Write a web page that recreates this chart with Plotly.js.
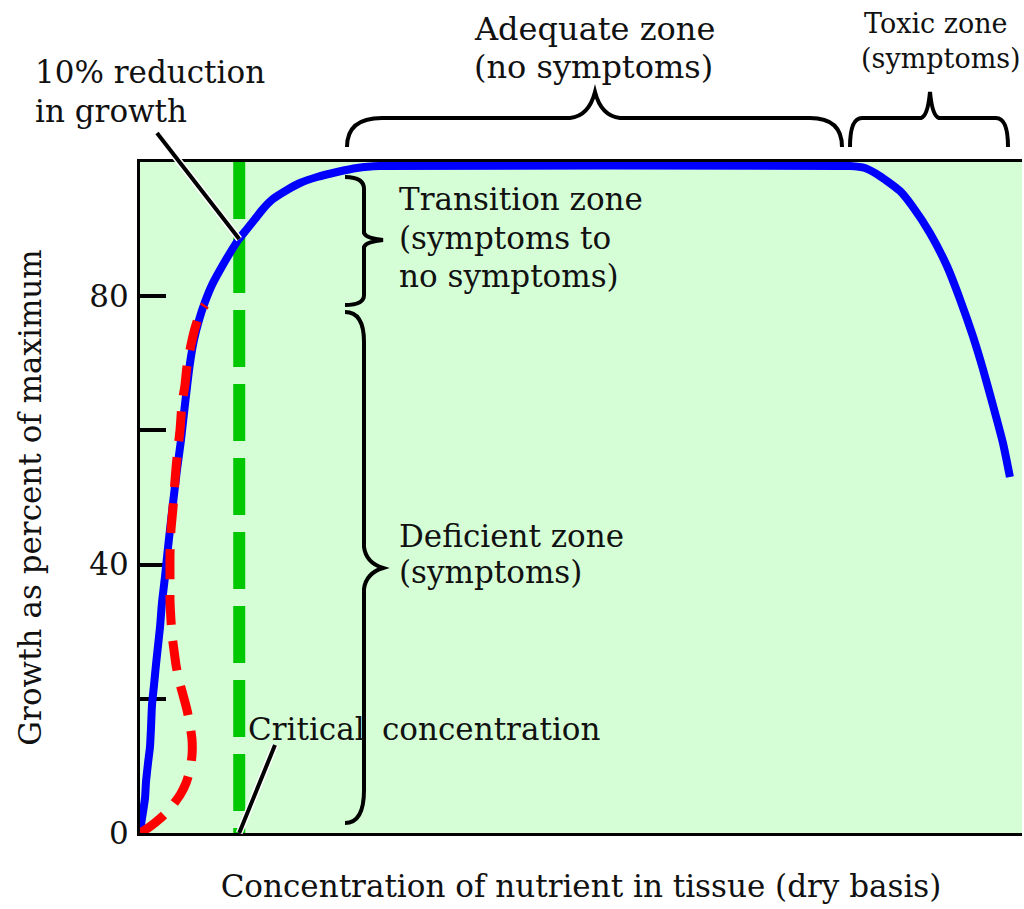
<!DOCTYPE html>
<html><head><meta charset="utf-8">
<script src="https://cdn.plot.ly/plotly-3.0.1.min.js"></script>
<style>html,body{margin:0;padding:0;background:#fff;} #chart{width:1024px;height:909px;}</style>
</head><body><div id="chart"></div>
<script>
// ---- data (concentration in arbitrary units 0-100, growth in % of maximum) ----
const responseX = [0.00,0.11,0.34,0.57,0.68,0.91,1.13,1.25,1.36,1.59,1.81,2.04,2.27,2.49,2.83,3.17,3.51,3.85,4.19,4.65,4.99,5.33,5.67,6.12,6.69,7.37,8.16,9.07,10.20,11.22,12.13,13.04,13.94,15.08,16.67,18.14,20.07,22.33,24.60,27.21,79.36,80.49,82.19,83.89,86.16,87.63,89.56,91.49,92.96,94.43,95.57,96.70,97.84,98.63];
const responseY = [0.00,1.19,3.13,5.22,7.60,10.43,12.82,15.80,19.08,22.06,25.04,27.87,30.70,34.28,38.15,42.47,46.50,50.37,54.10,58.57,62.59,66.47,70.04,73.47,76.45,79.14,81.67,83.90,86.44,88.52,90.01,91.51,93.00,94.49,95.83,96.87,97.76,98.51,99.11,99.40,99.40,99.40,99.11,97.91,95.68,93.29,89.42,84.50,79.58,74.07,69.15,63.79,58.12,53.06];
const steenbjergX = [0.00,0.91,1.81,2.72,3.63,4.54,5.22,5.67,5.90,5.90,5.67,5.33,4.88,4.42,4.08,3.85,3.63,3.51,3.40,3.40,3.40,3.51,3.74,3.97,4.20,4.54,4.76,5.10,5.33,5.78,6.24,6.80,7.37];
const steenbjergY = [0.00,0.75,1.64,2.68,4.02,5.66,7.45,9.39,11.62,13.86,16.10,18.33,20.57,22.80,25.04,27.27,29.51,31.74,34.72,37.70,41.43,45.16,48.44,52.61,56.04,60.06,63.93,66.77,69.60,72.73,75.26,77.50,78.69];
const criticalConcentration = 11.25;
const reducedGrowth = 88.52;
const yTickVals = [0, 20, 40, 60, 80];
const yTickText = ['0', '', '40', '', '80'];

// ---- layout geometry ----
const M = {l: 140, r: 2, t: 162, b: 76};
const W = 1024 - M.l - M.r, H = 909 - M.t - M.b;
const L = M.l, B = 909 - M.b;
const P = (px, py) => ((px - L) / W).toFixed(5) + ',' + ((B - py) / H).toFixed(5);
const px2x = px => (px - L) / W, py2y = py => (B - py) / H;

function hBrace(x1, x2, xt, r1, r2, tw, yEnd, yBar, yTip) {
  return 'M ' + P(x1, yEnd) + ' Q ' + P(x1, yBar) + ' ' + P(x1 + r1, yBar) +
    ' L ' + P(xt - tw, yBar) + ' Q ' + P(xt - tw * 0.25, yBar - 2) + ' ' + P(xt, yTip) +
    ' Q ' + P(xt + tw * 0.25, yBar - 2) + ' ' + P(xt + tw, yBar) +
    ' L ' + P(x2 - r2, yBar) + ' Q ' + P(x2, yBar) + ' ' + P(x2, yEnd);
}
function vBrace(yTop, yBot, yt, rT, rB, tw, xEnd, xBar, xTip) {
  return 'M ' + P(xEnd, yTop) + ' Q ' + P(xBar, yTop) + ' ' + P(xBar, yTop + rT) +
    ' L ' + P(xBar, yt - tw) + ' Q ' + P(xBar + 2, yt - tw * 0.25) + ' ' + P(xTip, yt) +
    ' Q ' + P(xBar + 2, yt + tw * 0.25) + ' ' + P(xBar, yt + tw) +
    ' L ' + P(xBar, yBot - rB) + ' Q ' + P(xBar, yBot) + ' ' + P(xEnd, yBot);
}

const braceLine = {color: '#000', width: 4};
const shapes = [
  {type: 'path', xref: 'paper', yref: 'paper', layer: 'above', line: braceLine, path: hBrace(347, 842, 595, 35, 32, 25, 147, 118, 92)},
  {type: 'path', xref: 'paper', yref: 'paper', layer: 'above', line: braceLine, path: hBrace(850, 1008, 930, 12, 12, 9, 147, 118, 92)},
  {type: 'path', xref: 'paper', yref: 'paper', layer: 'above', line: braceLine, path: vBrace(177, 305, 240, 12, 10, 7, 345, 364, 383)},
  {type: 'path', xref: 'paper', yref: 'paper', layer: 'above', line: braceLine, path: vBrace(312, 823, 568, 30, 33, 21, 345, 364, 383)},
  // pointer lines (white halo + black)
  {type: 'line', xref: 'paper', yref: 'paper', layer: 'above', line: {color: '#fff', width: 7},
   x0: px2x(157), y0: py2y(133), x1: criticalConcentration / 100, y1: reducedGrowth / 100},
  {type: 'line', xref: 'paper', yref: 'paper', layer: 'above', line: {color: '#000', width: 4},
   x0: px2x(157), y0: py2y(133), x1: criticalConcentration / 100, y1: reducedGrowth / 100},
  {type: 'line', xref: 'paper', yref: 'paper', layer: 'above', line: {color: '#fff', width: 7},
   x0: px2x(275), y0: py2y(745), x1: criticalConcentration / 100, y1: 0},
  {type: 'line', xref: 'paper', yref: 'paper', layer: 'above', line: {color: '#000', width: 4},
   x0: px2x(275), y0: py2y(745), x1: criticalConcentration / 100, y1: 0}
];

const FONT = 'DejaVu Serif';
const TXT = {family: FONT, size: 31, color: '#111'};
const labels = [
  ['10% reduction', 33, 72, 31], ['in growth', 33, 111, 31],
  ['Adequate zone', 472, 29, 32], ['(no symptoms)', 472, 67, 32],
  ['Toxic zone', 862, 24, 27], ['(symptoms)', 859, 58, 27],
  ['Transition zone', 397, 199, 31], ['(symptoms to', 397, 238, 31], ['no symptoms)', 397, 276, 31],
  ['Deficient zone', 397, 536, 31], ['(symptoms)', 397, 572, 31],
  ['Critical', 246, 729, 31], ['concentration', 380, 729, 31]
];
const annotations = labels.map(([t, x, y, s]) => ({
  text: t, xref: 'paper', yref: 'paper', x: px2x(x), y: py2y(y),
  xanchor: 'left', yanchor: 'middle', showarrow: false, font: Object.assign({}, TXT, {size: s})
}));

const traces = [
  {x: [criticalConcentration, criticalConcentration], y: [100, 0], mode: 'lines',
   line: {color: 'rgb(0,200,0)', width: 12, dash: '57px,17px'}, hoverinfo: 'skip'},
  {x: responseX, y: responseY, mode: 'lines',
   line: {color: 'rgb(0,0,255)', width: 8, shape: 'spline', smoothing: 0.6}, hoverinfo: 'skip'},
  {x: steenbjergX, y: steenbjergY, mode: 'lines',
   line: {color: 'rgb(255,0,0)', width: 9, dash: '30px,16px', shape: 'spline', smoothing: 0.5}, hoverinfo: 'skip'}
];

const layout = {
  width: 1024, height: 909,
  margin: M,
  paper_bgcolor: '#fff', plot_bgcolor: 'rgb(214,254,214)',
  showlegend: false, hovermode: false,
  font: {family: FONT, size: 31, color: '#111'},
  xaxis: {range: [0, 100], showgrid: false, zeroline: false, showticklabels: false, ticks: '',
    showline: true, mirror: true, linecolor: '#000', linewidth: 3, layer: 'below traces',
    title: {text: 'Concentration of nutrient in tissue (dry basis)', font: TXT, standoff: 41}},
  yaxis: {range: [0, 100], showgrid: false, zeroline: false,
    tickvals: yTickVals, ticktext: yTickText, ticks: 'inside', ticklen: 26, tickwidth: 4, tickcolor: '#000',
    ticklabelstandoff: 2, tickfont: TXT,
    showline: true, linecolor: '#000', linewidth: 3, layer: 'below traces',
    title: {text: 'Growth as percent of maximum', font: TXT, standoff: 39}},
  shapes: shapes, annotations: annotations
};

Plotly.newPlot('chart', traces, layout, {displayModeBar: false, staticPlot: true});
</script>
</body></html>
